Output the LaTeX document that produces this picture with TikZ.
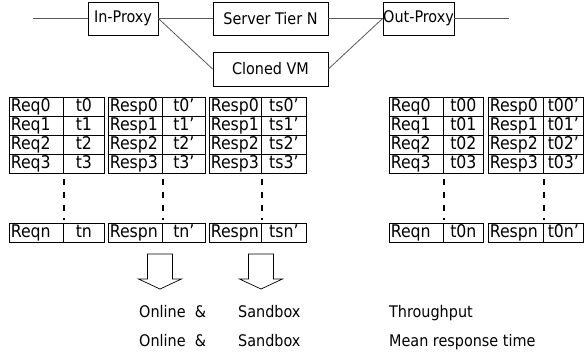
\documentclass[tikz,border=0pt]{standalone}
\usepackage{fontspec}
\setmainfont{DejaVu Sans Condensed}
\begin{document}
\begin{tikzpicture}[x=1pt,y=-1pt,
  every node/.style={font=\fontsize{16}{19}\selectfont},
  box/.style={draw, line width=0.8pt, inner sep=0pt, minimum height=33pt},
  wire/.style={draw=black!65, line width=0.8pt},
  cellL/.style={draw, line width=0.7pt, inner xsep=1.5pt, inner ysep=0pt, text width=#1, align=left,
    minimum height=19pt, text height=13.5pt, text depth=4.5pt, anchor=north west,
    font=\fontsize{17.5}{19}\selectfont},
  cellC/.style={draw, line width=0.7pt, inner sep=0pt, minimum width=#1,
    minimum height=19pt, text height=13.5pt, text depth=4.5pt, anchor=north west,
    font=\fontsize{17.5}{19}\selectfont},
  vdash/.style={draw, line width=1.6pt, dash pattern=on 6pt off 7pt, shorten <=5pt, shorten >=3pt},
  blockarrow/.style={draw, line width=0.7pt},
  label/.style={anchor=base west, inner sep=0pt}
]
\useasboundingbox (0,0) rectangle (584,355);

% top chain
\node[box, minimum width=70pt] (inp) at (123,18.5) {In-Proxy};
\node[box, minimum width=115pt] (srv) at (270.5,18.5) {Server Tier N};
\node[box, minimum width=71pt] (outp) at (418.5,18.5) {Out-Proxy};
\node[box, minimum width=115pt, minimum height=34pt] (clone) at (270.5,69) {Cloned VM};
\coordinate (lin) at (33,18.5);
\coordinate (lout) at (509,18.5);
\draw[wire] (lin) -- (inp.west);
\draw[wire] (inp.east) -- (srv.west);
\draw[wire] (srv.east) -- (outp.west);
\draw[wire] (outp.east) -- (lout);
\draw[wire] (inp.east) -- (clone.west);
\draw[wire] (clone.east) -- (outp.west);

% tables
\foreach \i/\y in {0/97,1/116,2/135,3/154} {
  \node[cellL=51pt] (ta\i) at (9,\y) {Req\i};
  \node[cellC=41pt] (tb\i) at (63,\y) {t\i};
  \node[cellL=51pt] (ua\i) at (108,\y) {Resp\i};
  \node[cellC=43pt] (ub\i) at (162,\y) {t\i’};
  \node[cellL=49pt] (va\i) at (209,\y) {Resp\i};
  \node[cellC=45pt] (vb\i) at (261,\y) {ts\i’};
  \node[cellL=51pt] (wa\i) at (389,\y) {Req\i};
  \node[cellC=40pt] (wb\i) at (443,\y) {t0\i};
  \node[cellL=52pt] (xa\i) at (488,\y) {Resp\i};
  \node[cellC=40pt] (xb\i) at (543,\y) {t0\i’};
}
\node[cellL=51pt] (tan) at (9,223) {Reqn};
\node[cellC=41pt] (tbn) at (63,223) {tn};
\node[cellL=51pt] (uan) at (108,223) {Respn};
\node[cellC=43pt] (ubn) at (162,223) {tn’};
\node[cellL=49pt] (van) at (209,223) {Respn};
\node[cellC=45pt] (vbn) at (261,223) {tsn’};
\node[cellL=51pt] (wan) at (389,223) {Reqn};
\node[cellC=40pt] (wbn) at (443,223) {t0n};
\node[cellL=52pt] (xan) at (488,223) {Respn};
\node[cellC=40pt] (xbn) at (543,223) {t0n’};

\draw[vdash] (ta3.south east) -- (tan.north east);
\draw[vdash] (ua3.south east) -- (uan.north east);
\draw[vdash] (va3.south east) -- (van.north east);
\draw[vdash] (wa3.south east) -- (wan.north east);
\draw[vdash] (xa3.south east) -- (xan.north east);

% block arrows
\draw[blockarrow] (147.5,254) -- (172.5,254) -- (172.5,279) -- (181.5,279) -- (160,289)
  -- (138.5,279) -- (147.5,279) -- cycle;
\draw[blockarrow] (248.5,254) -- (273.5,254) -- (273.5,279) -- (282.5,279) -- (261,289)
  -- (239.5,279) -- (248.5,279) -- cycle;

% result labels
\node[label] (on1) at (139,318) {Online~~\&};
\node[label] (sb1) at (238,318) {Sandbox};
\node[label] (on2) at (139,347) {Online~~\&};
\node[label] (sb2) at (238,347) {Sandbox};
\node[label] (thr) at (389,318) {Throughput};
\node[label] (mrt) at (389,347) {Mean response time};
\end{tikzpicture}
\end{document}
